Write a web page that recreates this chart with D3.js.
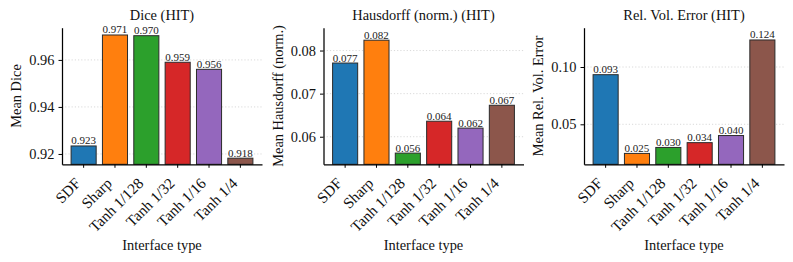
<!DOCTYPE html>
<html>
<head>
<meta charset="utf-8">
<script src="https://cdn.jsdelivr.net/npm/d3@7"></script>
<style>
  body { margin: 0; background: #fff; }
  svg { display: block; font-family: "Liberation Serif", "DejaVu Serif", serif; }
  .grid line { stroke: #d0d0d0; stroke-width: 0.8; stroke-dasharray: 1.2, 2; }
</style>
</head>
<body>
<div id="chart"></div>
<script>
// data
const categories = ["SDF", "Sharp", "Tanh 1/128", "Tanh 1/32", "Tanh 1/16", "Tanh 1/4"];
const barColors = ["#1f77b4", "#ff7f0e", "#2ca02c", "#d62728", "#9467bd", "#8c564b"];

const diceValues = [0.9234, 0.9706, 0.9703, 0.9590, 0.9560, 0.9182];
const hausdorffValues = [0.0771, 0.0824, 0.0562, 0.0636, 0.0620, 0.0673];
const relVolValues = [0.0933, 0.0246, 0.0298, 0.0340, 0.0402, 0.1236];

const titles = ["Dice (HIT)", "Hausdorff (norm.) (HIT)", "Rel. Vol. Error (HIT)"];
const yLabels = ["Mean Dice", "Mean Hausdorff (norm.)", "Mean Rel. Vol. Error"];
const xLabel = "Interface type";

const diceTicks = [0.92, 0.94, 0.96];
const hausdorffTicks = [0.06, 0.07, 0.08];
const relVolTicks = [0.05, 0.10];

const diceDomain = [0.9156, 0.9737];
const hausdorffDomain = [0.0536, 0.0853];
const relVolDomain = [0.0151, 0.1343];

const W = 793, H = 262;
const panelLeft = [62, 323.5, 584];
const panelW = 200;
const axTop = 27.7, axBottom = 164.3;
const fontMain = 14.4, fontTick = 15.3, fontValue = 11;

const panels = [
  { title: titles[0], ylabel: yLabels[0], values: diceValues, domain: diceDomain, ticks: diceTicks },
  { title: titles[1], ylabel: yLabels[1], values: hausdorffValues, domain: hausdorffDomain, ticks: hausdorffTicks },
  { title: titles[2], ylabel: yLabels[2], values: relVolValues, domain: relVolDomain, ticks: relVolTicks }
];

const svg = d3.select("#chart")
  .append("svg")
  .attr("width", W)
  .attr("height", H);

svg.append("rect").attr("width", W).attr("height", H).attr("fill", "#fff");

function drawPanel(p, i) {
  const g = svg.append("g")
    .attr("transform", `translate(${panelLeft[i]}, ${axTop})`);
  const h = axBottom - axTop;

  const x = d3.scaleBand()
    .domain(categories)
    .range([0, panelW])
    .paddingInner(0.2)
    .paddingOuter(0.29);

  const y = d3.scaleLinear()
    .domain(p.domain)
    .range([h, 0]);

  // horizontal dotted grid
  g.append("g")
    .attr("class", "grid")
    .selectAll("line")
    .data(p.ticks)
    .enter()
    .append("line")
    .attr("x1", 0)
    .attr("x2", panelW)
    .attr("y1", d => y(d))
    .attr("y2", d => y(d));

  // bars
  g.selectAll(".bar")
    .data(p.values)
    .enter()
    .append("rect")
    .attr("class", "bar")
    .attr("x", (d, k) => x(categories[k]))
    .attr("width", x.bandwidth())
    .attr("y", d => y(d))
    .attr("height", d => h - y(d))
    .attr("fill", (d, k) => barColors[k])
    .attr("stroke", "#2b2b2b")
    .attr("stroke-width", 1);

  // value labels
  g.selectAll(".val")
    .data(p.values)
    .enter()
    .append("text")
    .attr("class", "val")
    .attr("x", (d, k) => x(categories[k]) + x.bandwidth() / 2)
    .attr("y", d => y(d) - 1.5)
    .attr("text-anchor", "middle")
    .attr("font-size", fontValue)
    .attr("fill", "#222")
    .text(d => d3.format(".3f")(d));

  // x axis
  const xAxis = d3.axisBottom(x).tickSize(3.5).tickSizeOuter(0);
  const gx = g.append("g")
    .attr("transform", `translate(0, ${h})`)
    .call(xAxis)
    .attr("font-family", null);
  gx.select(".domain").attr("stroke-width", 1.25);
  gx.selectAll(".tick line").attr("stroke-width", 1);
  gx.selectAll("text")
    .attr("font-size", fontTick)
    .attr("fill", "#111")
    .attr("x", 0)
    .attr("y", 0)
    .attr("dy", null)
    .attr("text-anchor", "end")
    .attr("transform", "translate(-2, 20) rotate(-45)");

  // y axis
  const yAxis = d3.axisLeft(y)
    .tickValues(p.ticks)
    .tickFormat(d3.format(".2f"))
    .tickSize(3.5)
    .tickSizeOuter(0)
    .tickPadding(4);
  const gy = g.append("g")
    .call(yAxis)
    .attr("font-family", null);
  gy.select(".domain").attr("stroke-width", 1.25);
  gy.selectAll(".tick line").attr("stroke-width", 1);
  gy.selectAll("text")
    .attr("font-size", fontMain)
    .attr("fill", "#111");

  // title
  g.append("text")
    .attr("x", panelW / 2)
    .attr("y", -7.5)
    .attr("text-anchor", "middle")
    .attr("font-size", fontMain)
    .attr("fill", "#111")
    .text(p.title);

  // axis labels
  g.append("text")
    .attr("x", panelW / 2)
    .attr("y", 250.5 - axTop)
    .attr("text-anchor", "middle")
    .attr("font-size", fontMain)
    .attr("fill", "#111")
    .text(xLabel);

  g.append("text")
    .attr("transform", `translate(-46, ${h / 2}) rotate(-90)`)
    .attr("dy", "0.35em")
    .attr("text-anchor", "middle")
    .attr("font-size", fontMain)
    .attr("fill", "#111")
    .text(p.ylabel);
}

panels.forEach(drawPanel);
</script>
</body>
</html>
